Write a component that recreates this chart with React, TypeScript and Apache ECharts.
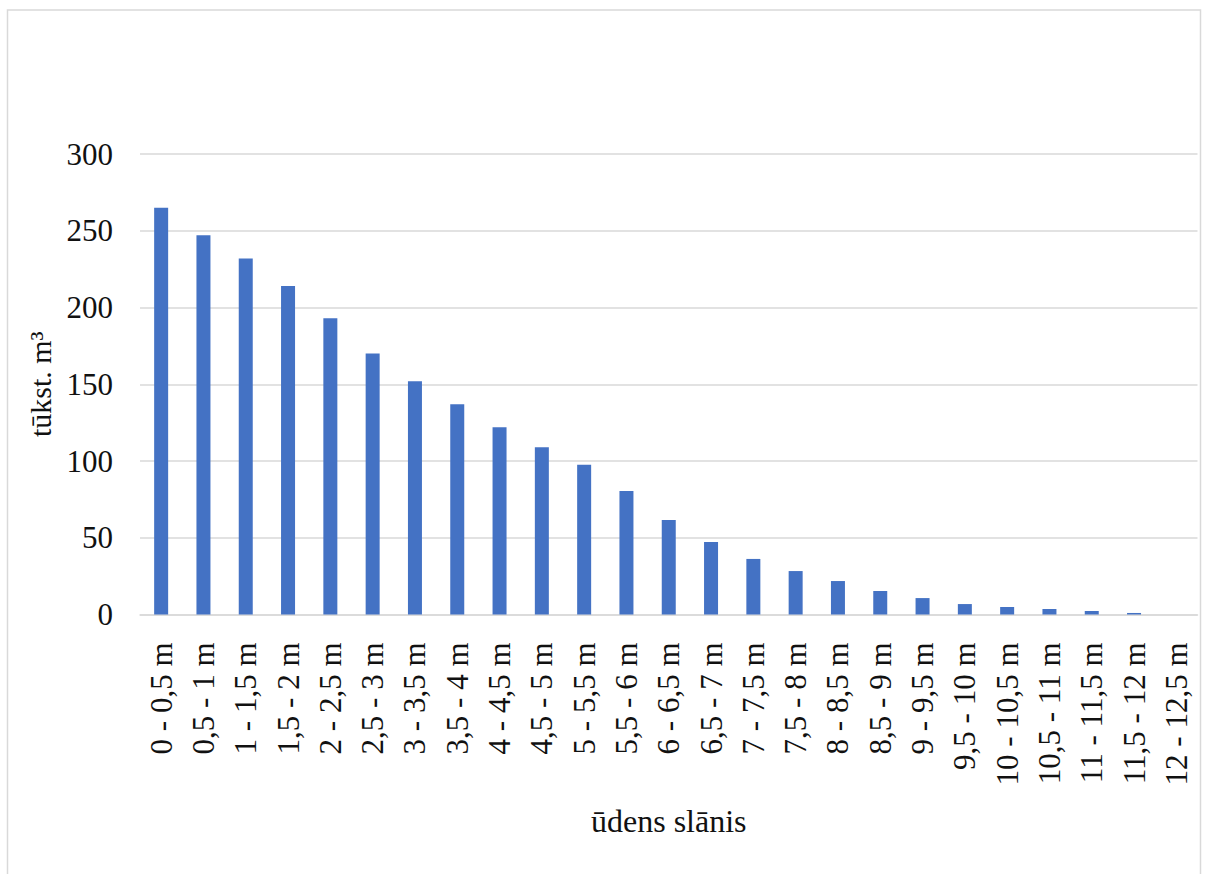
import React, { useEffect, useRef } from "react";
import * as echarts from "echarts";

const categories = [
  "0 - 0,5 m", "0,5 - 1 m", "1 - 1,5 m", "1,5 - 2 m", "2 - 2,5 m", "2,5 - 3 m",
  "3 - 3,5 m", "3,5 - 4 m", "4 - 4,5 m", "4,5 - 5 m", "5 - 5,5 m", "5,5 - 6 m",
  "6 - 6,5 m", "6,5 - 7 m", "7 - 7,5 m", "7,5 - 8 m", "8 - 8,5 m", "8,5 - 9 m",
  "9 - 9,5 m", "9,5 - 10 m", "10 - 10,5 m", "10,5 - 11 m", "11 - 11,5 m",
  "11,5 - 12 m", "12 - 12,5 m",
];
const volumes = [
  265, 247, 232, 214, 193, 170, 152, 137, 122, 109, 97.5, 80.5, 61.6, 47.2,
  36.2, 28.3, 21.8, 15.3, 10.7, 6.8, 4.9, 3.6, 2.3, 1.0, 0,
];
const yAxisTitle = "tūkst. m³";
const xAxisTitle = "ūdens slānis";

const FONT = "'Liberation Serif', 'Times New Roman', serif";

export default function App() {
  const ref = useRef<HTMLDivElement>(null);
  useEffect(() => {
    if (!ref.current) return;
    const chart = echarts.init(ref.current, undefined, { renderer: "svg" });
    chart.setOption({
      animation: false,
      backgroundColor: "#ffffff",
      textStyle: { fontFamily: FONT },
      graphic: [
        {
          type: "rect",
          shape: { x: 7.5, y: 10, width: 1193, height: 880 },
          style: { fill: "none", stroke: "#d9d9d9", lineWidth: 1.5 },
          silent: true,
        },
      ],
      grid: { left: 140, right: 10.5, top: 154, bottom: 259.5, containLabel: false },
      xAxis: {
        type: "category",
        data: categories,
        axisLine: { show: true, lineStyle: { color: "#d9d9d9", width: 1.5 } },
        axisTick: { show: false },
        axisLabel: {
          rotate: 90,
          interval: 0,
          margin: 28,
          color: "#111",
          fontSize: 31,
          fontFamily: FONT,
        },
        name: xAxisTitle,
        nameLocation: "middle",
        nameGap: 190,
        nameTextStyle: { color: "#111", fontSize: 32, fontFamily: FONT },
      },
      yAxis: {
        type: "value",
        min: 0,
        max: 300,
        interval: 50,
        axisLine: { show: false },
        axisTick: { show: false },
        splitLine: { lineStyle: { color: "#d9d9d9", width: 1.5 } },
        axisLabel: { margin: 27, color: "#111", fontSize: 31, fontFamily: FONT },
        name: yAxisTitle,
        nameLocation: "middle",
        nameGap: 85,
        nameTextStyle: { color: "#111", fontSize: 30, fontFamily: FONT },
      },
      series: [
        {
          type: "bar",
          data: volumes,
          barWidth: 14,
          itemStyle: { color: "#4472C4" },
        },
      ],
    });
    return () => chart.dispose();
  }, []);
  return (
    <div
      ref={ref}
      style={{ position: "absolute", left: 0, top: 0, width: 1208, height: 874 }}
    />
  );
}
